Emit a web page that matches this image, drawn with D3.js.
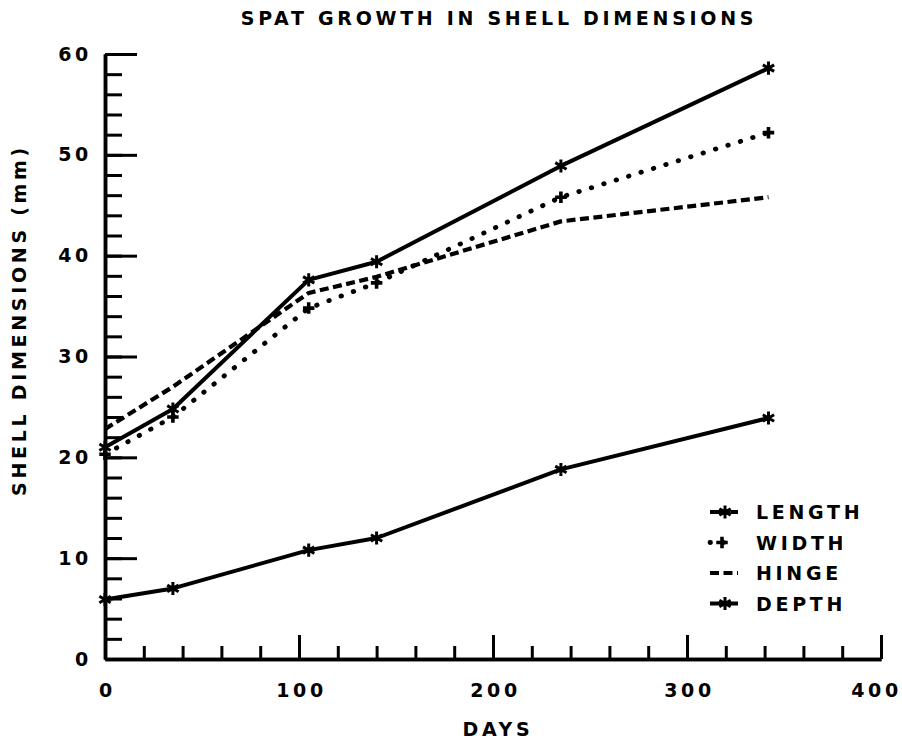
<!DOCTYPE html>
<html>
<head>
<meta charset="utf-8">
<script src="https://cdn.jsdelivr.net/npm/d3@7"></script>
<style>
  body { margin: 0; background: #fff; }
  svg text { font-family: 'DejaVu Sans', sans-serif; font-weight: bold; font-size: 19px; letter-spacing: 3.7px; fill: #000; }
</style>
</head>
<body>
<svg width="902" height="739"></svg>
<script>
// values
const days = [0, 35, 105, 140, 235, 342]
const lengthMm = [21.0, 24.8, 37.6, 39.4, 48.9, 58.6]
const widthMm = [20.3, 24.0, 34.8, 37.3, 45.8, 52.2]
const hingeMm = [22.8, 27.0, 36.3, 37.9, 43.4, 45.8]
const depthMm = [5.9, 7.0, 10.8, 12.0, 18.8, 23.9]

const xMajor = [0, 100, 200, 300, 400]
const yMajor = [0, 10, 20, 30, 40, 50, 60]
const seriesNames = ['LENGTH', 'WIDTH', 'HINGE', 'DEPTH']

const svg = d3.select('svg')

const x = d3.scaleLinear().domain([0, 400]).range([105, 881])
const y = d3.scaleLinear().domain([0, 60]).range([659, 54])

// series styles
const styles = {
  LENGTH: {values: lengthMm, dash: null, cap: 'butt', sw: 4, marker: 'star'},
  WIDTH: {values: widthMm, dash: '0.5 12.5', cap: 'round', sw: 4.8, marker: 'plus'},
  HINGE: {values: hingeMm, dash: '9 4.5', cap: 'butt', sw: 4.2, marker: null},
  DEPTH: {values: depthMm, dash: null, cap: 'butt', sw: 4, marker: 'star'}
}

const star = d3.symbol(d3.symbolAsterisk, 120)
const plus = d3.symbol(d3.symbolPlus, 45)

function addMarker (g, type, cx, cy) {
  if (type === 'star') {
    g.append('path').attr('d', star).attr('transform', 'translate(' + cx + ',' + cy + ')')
      .attr('fill', 'none').attr('stroke', '#000').attr('stroke-width', 3)
  } else if (type === 'plus') {
    g.append('path').attr('d', plus).attr('transform', 'translate(' + cx + ',' + cy + ')')
      .attr('fill', 'none').attr('stroke', '#000').attr('stroke-width', 3.6)
  }
}

// axes: minor and major ticks point inward
const yMinor = svg.append('g').attr('transform', 'translate(' + x(0) + ',0)')
  .call(d3.axisLeft(y).tickValues(d3.range(0, 61, 2)).tickSizeInner(-17).tickSizeOuter(0).tickFormat(''))
const yMaj = svg.append('g').attr('transform', 'translate(' + x(0) + ',0)')
  .call(d3.axisLeft(y).tickValues(yMajor).tickSizeInner(-32).tickSizeOuter(0).tickPadding(13))
const xMinor = svg.append('g').attr('transform', 'translate(0,' + y(0) + ')')
  .call(d3.axisBottom(x).tickValues(d3.range(0, 401, 20)).tickSizeInner(-13).tickSizeOuter(0).tickFormat(''))
const xMaj = svg.append('g').attr('transform', 'translate(0,' + y(0) + ')')
  .call(d3.axisBottom(x).tickValues(xMajor).tickSizeInner(-24).tickSizeOuter(0).tickPadding(25))

svg.selectAll('.domain').attr('stroke', '#000').attr('stroke-width', 3.5)
svg.selectAll('.tick line').attr('stroke', '#000').attr('stroke-width', 3)
svg.selectAll('.tick text').attr('font-family', null).attr('font-size', null)
xMaj.selectAll('.tick text').attr('dx', d => d === 400 ? '-5px' : '2px')

// lines
const line = d3.line()
  .x((d, i) => x(days[i]))
  .y(d => y(d))

const plot = svg.append('g')
seriesNames.forEach(name => {
  const s = styles[name]
  plot.append('path')
    .datum(s.values)
    .attr('d', line)
    .attr('fill', 'none')
    .attr('stroke', '#000')
    .attr('stroke-width', s.sw)
    .attr('stroke-linecap', s.cap)
    .attr('stroke-linejoin', 'round')
    .attr('stroke-dasharray', s.dash)
  if (s.marker) {
    s.values.forEach((v, i) => addMarker(plot, s.marker, x(days[i]), y(v)))
  }
})

// titles
svg.append('text')
  .attr('x', 499).attr('y', 25)
  .attr('text-anchor', 'middle')
  .text('SPAT GROWTH IN SHELL DIMENSIONS')

svg.append('text')
  .attr('x', 498).attr('y', 736)
  .attr('text-anchor', 'middle')
  .text('DAYS')

svg.append('text')
  .attr('transform', 'translate(26,320) rotate(-90)')
  .attr('text-anchor', 'middle')
  .text('SHELL DIMENSIONS (mm)')

// legend
const legend = svg.append('g')
seriesNames.forEach((name, i) => {
  const s = styles[name]
  const ly = 512 + i * 30.5
  const row = legend.append('g')
  row.append('line')
    .attr('x1', 710).attr('x2', name === 'WIDTH' ? 732 : 738)
    .attr('y1', ly).attr('y2', ly)
    .attr('stroke', '#000')
    .attr('stroke-width', s.sw)
    .attr('stroke-linecap', s.cap)
    .attr('stroke-dasharray', s.dash)
  if (s.marker) addMarker(row, s.marker, name === 'WIDTH' ? 722 : 725, ly)
  row.append('text')
    .attr('x', 756).attr('y', ly + 7)
    .text(name)
})
</script>
</body>
</html>
